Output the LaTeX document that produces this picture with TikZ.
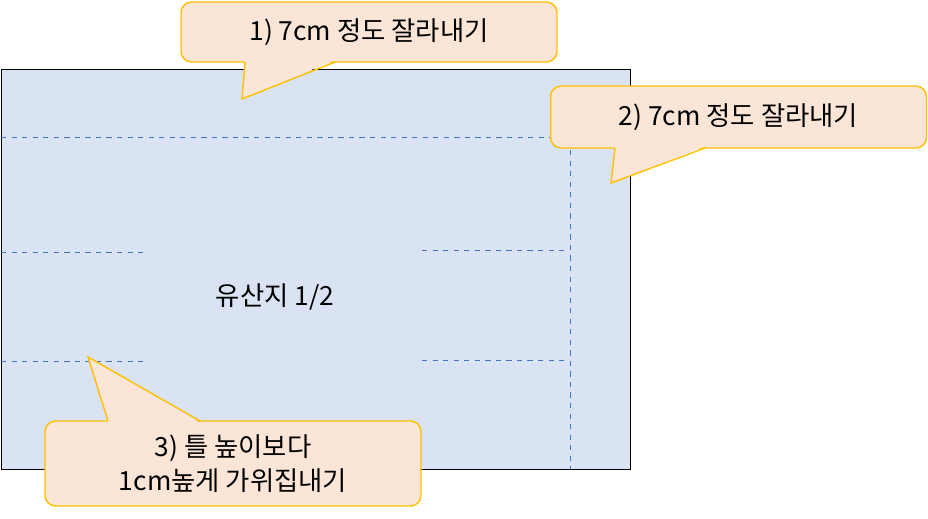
\documentclass[tikz,border=0pt]{standalone}
\usepackage{fontspec}
\newfontfamily\kor{Noto Sans CJK KR}
\definecolor{paper}{HTML}{DAE3F3}
\definecolor{notefill}{HTML}{FBE5D6}
\definecolor{noteline}{HTML}{FFC000}
\definecolor{cutline}{HTML}{4472C4}
\tikzset{
	note/.style={rectangle,rounded corners=6pt,draw=noteline,fill=notefill,thick,
		minimum width=7.52cm,align=center,font=\kor\fontsize{15}{19}\selectfont},
	cut/.style={cutline,dashed,thin}
}
\begin{document}
\begin{tikzpicture}[x=0.02cm,y=-0.02cm]
	\useasboundingbox (0,0) rectangle (928,518);
	\node [draw,semithick,fill=paper,minimum width=12.58cm,minimum height=8cm,anchor=north west,inner sep=0] (sheet) at (1,69) {};
	\node [font=\kor\fontsize{15}{17}\selectfont] (label) at (275,297) {유산지 1/2};

	% cut lines
	\coordinate (c1a) at (1,137);    \coordinate (c1b) at (550,137);
	\coordinate (c2a) at (570,150);  \coordinate (c2b) at (570,469);
	\draw [cut] (c1a) -- (c1b);
	\draw [cut] (c2a) -- (c2b);
	\draw [cut] (1,252) -- (145,252);
	\draw [cut] (1,361) -- (145,361);
	\draw [cut] (422,250) -- (565,250);
	\draw [cut] (422,360) -- (565,360);

	% callouts
	\node [note,minimum height=1.2cm] (note1) at (369,32) {1)\ 7cm\ 정도\ 잘라내기};
	\node [note,minimum height=1.24cm] (note2) at (738.5,117) {2)\ 7cm\ 정도\ 잘라내기};
	\node [note,minimum height=1.7cm] (note3) at (233,463.5) {3)\ 틀\ 높이보다\\1cm높게\ 가위집내기};

	\coordinate (tip1) at (242,99);
	\coordinate (tip2) at (611,183);
	\coordinate (tip3) at (88,357);
	\fill [notefill] (245,60) -- (tip1) -- (335,60) -- cycle;
	\draw [noteline,thick] (245,62) -- (tip1) -- (335,62);
	\fill [notefill] (615,146) -- (tip2) -- (705,146) -- cycle;
	\draw [noteline,thick] (615,148) -- (tip2) -- (705,148);
	\fill [notefill] (108,423) -- (tip3) -- (200,423) -- cycle;
	\draw [noteline,thick] (108,421) -- (tip3) -- (200,421);
\end{tikzpicture}
\end{document}
